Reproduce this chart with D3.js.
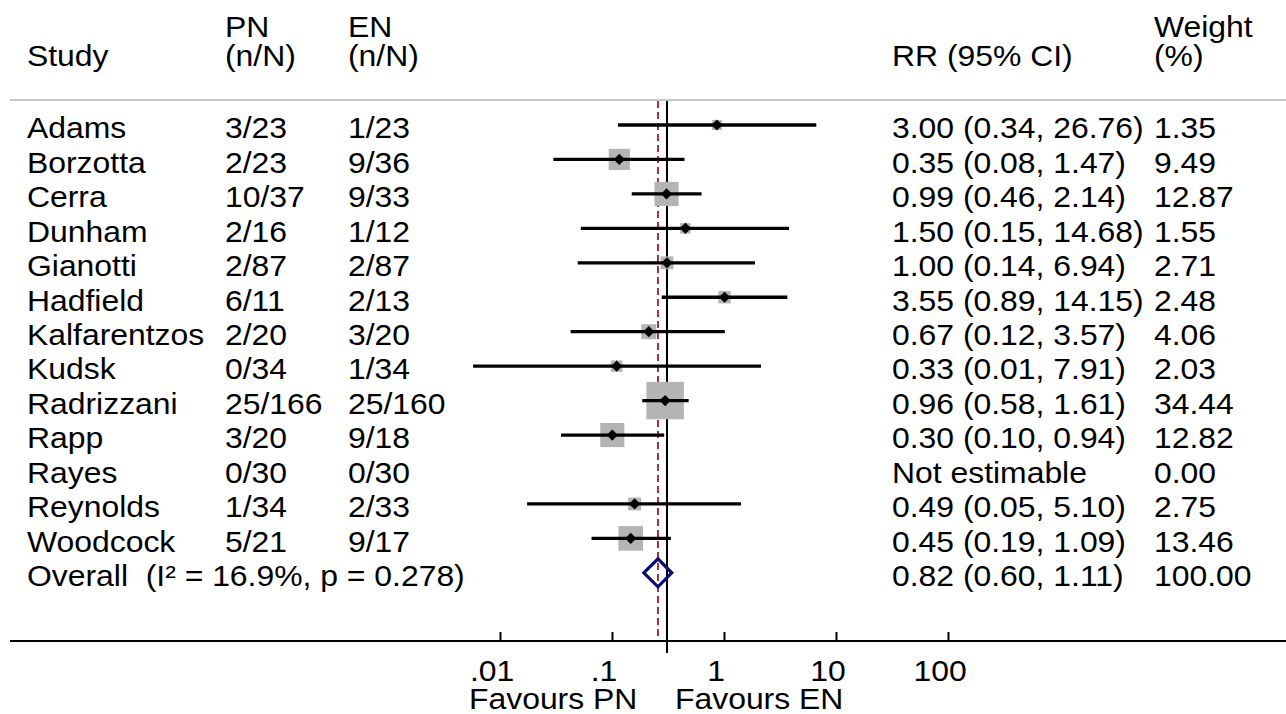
<!DOCTYPE html>
<html>
<head>
<meta charset="utf-8">
<script src="https://cdn.jsdelivr.net/npm/d3@7"></script>
<style>
  body { margin: 0; background: #fff; }
  text { font-family: "Liberation Sans", Arial, Helvetica, sans-serif; fill: #000; white-space: pre; }
</style>
</head>
<body>
<div id="forest"></div>
<script>
// study data
var studies = ["Adams", "Borzotta", "Cerra", "Dunham", "Gianotti", "Hadfield", "Kalfarentzos",
  "Kudsk", "Radrizzani", "Rapp", "Rayes", "Reynolds", "Woodcock"];
var pnEvents = [3, 2, 10, 2, 2, 6, 2, 0, 25, 3, 0, 1, 5];
var pnTotals = [23, 23, 37, 16, 87, 11, 20, 34, 166, 20, 30, 34, 21];
var enEvents = [1, 9, 9, 1, 2, 2, 3, 1, 25, 9, 0, 2, 9];
var enTotals = [23, 36, 33, 12, 87, 13, 20, 34, 160, 18, 30, 33, 17];
var rr = [3.00, 0.35, 0.99, 1.50, 1.00, 3.55, 0.67, 0.33, 0.96, 0.30, null, 0.49, 0.45];
var lower = [0.34, 0.082, 0.46, 0.15, 0.14, 0.89, 0.12, 0.014, 0.58, 0.097, null, 0.046, 0.19];
var upper = [26.76, 1.47, 2.14, 14.68, 6.94, 14.15, 3.57, 7.91, 1.61, 0.94, null, 5.10, 1.09];
var weights = [1.35, 9.49, 12.87, 1.55, 2.71, 2.48, 4.06, 2.03, 34.44, 12.82, 0.00, 2.75, 13.46];

var overall = { rr: 0.82, lower: 0.60, upper: 1.11, weight: 100, i2: 16.9, p: 0.278 };

var axisTicks = [0.01, 0.1, 1, 10, 100];
var axisTickLabels = [".01", ".1", "1", "10", "100"];

var svgWidth = 1286;
var svgHeight = 714;
var fontSize = 29;
var stretch = 1.1;   // text in the picture is a bit wide

var svg = d3.select("#forest")
  .append("svg")
  .attr("width", svgWidth)
  .attr("height", svgHeight);

// columns
var col = { study: 27, pn: 225, en: 348, rr: 892, wt: 1154 };

// scales
var rows = studies.concat(["Overall"]);
var yScale = d3.scalePoint()
  .domain(rows)
  .range([125, 125 + 13 * 34.45]);

// the marks and the axis labels do not line up in the original, so two log scales
var xScale = d3.scaleLog()
  .domain([1, 10])
  .range([667, 771.6]);

var axisScale = d3.scaleLog()
  .domain([0.01, 100])
  .range([500, 948]);

var sizeScale = d3.scaleSqrt()
  .domain([0, 100])
  .range([3.2, 61.6]);

var fmt = d3.format(".2f");

function label(x, y, txt) {
  return svg.append("text")
    .attr("transform", `translate(${x},${y}) scale(${stretch},1)`)
    .attr("xml:space", "preserve")
    .style("font-size", fontSize + "px")
    .text(txt);
}

// header
label(col.study, 66, "Study");
label(col.pn, 37, "PN");
label(col.pn, 66, "(n/N)");
label(col.en, 37, "EN");
label(col.en, 66, "(n/N)");
label(col.rr, 66, "RR (95% CI)");
label(col.wt, 37, "Weight");
label(col.wt, 66, "(%)");

svg.append("line")
  .attr("x1", 10).attr("x2", svgWidth)
  .attr("y1", 100).attr("y2", 100)
  .attr("stroke", "#c8c8c8")
  .attr("stroke-width", 2);

// reference lines
var axisY = 641;

svg.append("line")
  .attr("x1", xScale(1)).attr("x2", xScale(1))
  .attr("y1", 101).attr("y2", 653)
  .attr("stroke", "#000")
  .attr("stroke-width", 2);

svg.append("line")
  .attr("x1", xScale(overall.rr)).attr("x2", xScale(overall.rr))
  .attr("y1", 101).attr("y2", axisY)
  .attr("stroke", "#a3333d")
  .attr("stroke-width", 2)
  .attr("stroke-dasharray", "7,4");

// study rows
var data = studies.map(function(s, i) {
  return {
    study: s, pnE: pnEvents[i], pnN: pnTotals[i], enE: enEvents[i], enN: enTotals[i],
    rr: rr[i], lo: lower[i], hi: upper[i], w: weights[i]
  };
});
var est = data.filter(d => d.rr !== null);

// weight squares
svg.append("g").selectAll("rect")
  .data(est)
  .enter()
  .append("rect")
  .attr("x", d => xScale(d.rr) - sizeScale(d.w) / 2)
  .attr("y", d => yScale(d.study) - sizeScale(d.w) / 2)
  .attr("width", d => sizeScale(d.w))
  .attr("height", d => sizeScale(d.w))
  .attr("fill", "#b4b4b4");

// confidence intervals
svg.append("g").selectAll("line")
  .data(est)
  .enter()
  .append("line")
  .attr("x1", d => xScale(d.lo))
  .attr("x2", d => xScale(d.hi))
  .attr("y1", d => yScale(d.study))
  .attr("y2", d => yScale(d.study))
  .attr("stroke", "#000")
  .attr("stroke-width", 3.3);

// point estimates
svg.append("g").selectAll("path")
  .data(est)
  .enter()
  .append("path")
  .attr("d", function(d) {
    var x = xScale(d.rr), y = yScale(d.study), r = 5.6;
    return `M${x - r},${y}L${x},${y - r}L${x + r},${y}L${x},${y + r}Z`;
  })
  .attr("fill", "#000");

// overall diamond
var oy = yScale("Overall");
svg.append("path")
  .attr("d", `M${xScale(overall.lower)},${oy}L${xScale(overall.rr)},${oy - 14}` +
    `L${xScale(overall.upper)},${oy}L${xScale(overall.rr)},${oy + 14}Z`)
  .attr("fill", "none")
  .attr("stroke", "#0c0c72")
  .attr("stroke-width", 3.2)
  .attr("stroke-linejoin", "miter");

// row texts
var textOffset = 13.3;
data.forEach(function(d) {
  var y = yScale(d.study) + textOffset;
  label(col.study, y, d.study);
  label(col.pn, y, d.pnE + "/" + d.pnN);
  label(col.en, y, d.enE + "/" + d.enN);
  label(col.rr, y, d.rr === null ? "Not estimable" :
    `${fmt(d.rr)} (${fmt(d.lo)}, ${fmt(d.hi)})`);
  label(col.wt, y, fmt(d.w));
});

label(col.study, oy + textOffset, `Overall  (I\u00b2 = ${overall.i2}%, p = ${overall.p})`);
label(col.rr, oy + textOffset, `${fmt(overall.rr)} (${fmt(overall.lower)}, ${fmt(overall.upper)})`);
label(col.wt, oy + textOffset, fmt(overall.weight));

// x axis
svg.append("line")
  .attr("x1", 10).attr("x2", svgWidth)
  .attr("y1", axisY).attr("y2", axisY)
  .attr("stroke", "#000")
  .attr("stroke-width", 2);

var bottomAxis = d3.axisBottom(axisScale)
  .tickValues(axisTicks)
  .tickFormat((d, i) => axisTickLabels[i])
  .tickSize(-9)
  .tickPadding(19);

var axisG = svg.append("g")
  .attr("transform", `translate(0, ${axisY})`)
  .call(bottomAxis);

axisG.select(".domain").remove();
axisG.selectAll(".tick line")
  .attr("stroke", "#000")
  .attr("stroke-width", 2);
axisG.selectAll(".tick text")
  .attr("font-family", null)
  .attr("font-size", null)
  .style("font-size", fontSize + "px")
  .attr("fill", "#000")
  .attr("dx", -7.7)
  .attr("transform", `scale(${stretch},1)`);

// favours labels
label(469, 709, "Favours PN");
label(675, 709, "Favours EN");
</script>
</body>
</html>
